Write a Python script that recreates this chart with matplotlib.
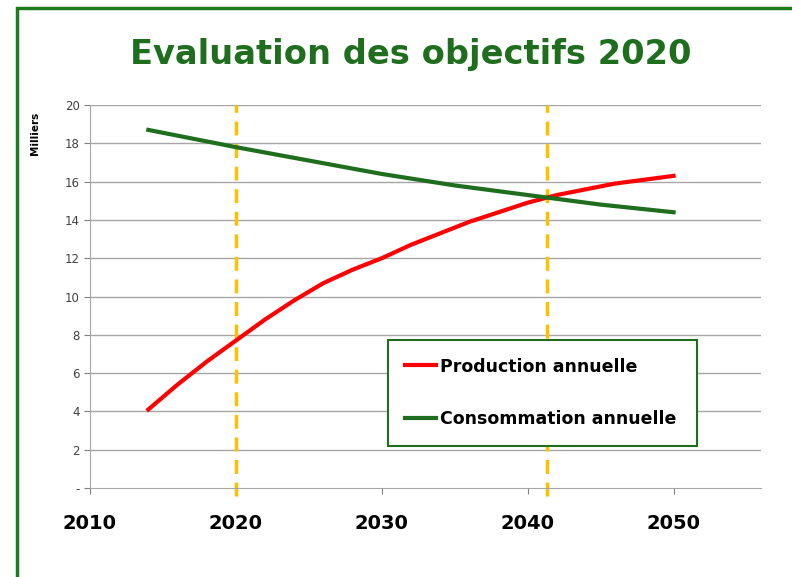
import matplotlib
matplotlib.use("Agg")
import matplotlib.pyplot as plt
from matplotlib.patches import Rectangle

# data (thousands)
prod_years = [2014, 2016, 2018, 2020, 2022, 2024, 2026, 2028, 2030, 2032,
              2034, 2036, 2038, 2040, 2042, 2044, 2046, 2048, 2050]
prod_vals = [4.1, 5.4, 6.6, 7.7, 8.8, 9.8, 10.7, 11.4, 12.0, 12.7,
             13.3, 13.9, 14.4, 14.9, 15.3, 15.6, 15.9, 16.1, 16.3]
cons_years = [2014, 2020, 2025, 2030, 2035, 2040, 2045, 2050]
cons_vals = [18.7, 17.8, 17.1, 16.4, 15.8, 15.3, 14.8, 14.4]
marker_years = [2020, 2041.3]
x_ticks = [2010, 2020, 2030, 2040, 2050]
y_ticks = [0, 2, 4, 6, 8, 10, 12, 14, 16, 18, 20]
y_labels = ["-"] + [str(v) for v in y_ticks[1:]]

fig = plt.figure(figsize=(7.92, 5.77), dpi=100)
ax = fig.add_axes([0.1136, 0.1542, 0.8474, 0.6638])

# outer green frame
fig.patches.append(Rectangle((17 / 792, -0.1), 1.2, 1.1 - 8 / 577,
                             transform=fig.transFigure, fill=False,
                             edgecolor="#1e7a1e", lw=2.5))

for y in y_ticks[1:]:
    ax.axhline(y, color="#a6a6a6", lw=1, zorder=1)

for xv in marker_years:
    ax.plot([xv, xv], [-0.4, 20], color="#ffc000", lw=2.5, ls=(0, (4, 2.5)),
            zorder=2, clip_on=False)

ax.plot(prod_years, prod_vals, color="#ff0000", lw=3, zorder=3,
        label="Production annuelle")
ax.plot(cons_years, cons_vals, color="#1e6e1e", lw=3, zorder=3,
        label="Consommation annuelle")

ax.set_xlim(2010, 2056)
ax.set_ylim(0, 20)
ax.set_xticks(x_ticks)
ax.set_xticklabels([str(v) for v in x_ticks], fontsize=14, fontweight="bold")
ax.set_yticks(y_ticks)
ax.set_yticklabels(y_labels, fontsize=8.5, color="#404040")
ax.tick_params(axis="both", direction="out", length=4, color="#808080")
ax.tick_params(axis="x", pad=15)

for s in ["top", "right"]:
    ax.spines[s].set_visible(False)
ax.spines["left"].set_color("#a6a6a6")
ax.spines["bottom"].set_color("#a6a6a6")

fig.text(0.044, 0.806, "Milliers", rotation=90, fontsize=7.5, fontweight="bold",
         ha="center", va="top")
fig.text(0.518, 0.905, "Evaluation des objectifs 2020", fontsize=24.2,
         fontweight="bold", color="#1e6e1e", ha="center", va="center")

leg = ax.legend(loc="upper left", bbox_to_anchor=(0.444, 0.112, 0.461, 0.274),
                mode="expand", frameon=True, fancybox=False,
                prop={"weight": "bold", "size": 12.5}, handlelength=1.75,
                handletextpad=0.25, labelspacing=2.0, borderpad=1.0,
                borderaxespad=0)
leg.get_frame().set_edgecolor("#1e6e1e")
leg.get_frame().set_linewidth(1.5)
leg.get_frame().set_alpha(1)

fig.savefig("out.png", dpi=100)
